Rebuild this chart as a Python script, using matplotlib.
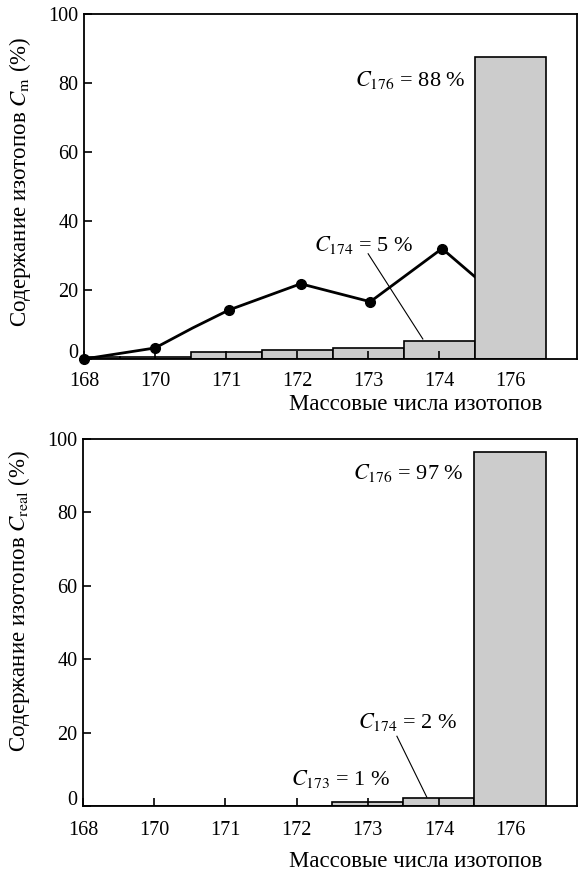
import matplotlib
matplotlib.use("Agg")
import matplotlib.pyplot as plt
from matplotlib.transforms import ScaledTranslation

plt.rcParams['font.family'] = ['Liberation Serif', 'DejaVu Serif']
plt.rcParams['mathtext.fontset'] = 'stix'

# mass numbers (categorical axis)
isotopes = ['168', '170', '171', '172', '173', '174', '176']

# top panel: measured contents C_m
cm_bars = [0.5, 0.5, 2.0, 2.6, 3.1, 5.2, 87.5]
cm_line_x = [0, 1, 1.53, 2.04, 3.05, 4.03, 5.04, 5.55]
cm_line_y = [0, 3.2, 9.0, 14.2, 21.8, 16.6, 32.0, 23.0]
cm_markers = [0, 1, 3, 4, 5, 6]

# bottom panel: real contents C_real
creal_bars = [0, 0, 0, 0, 1.0, 2.2, 96.5]

xlabel = 'Массовые числа изотопов'


def style_axes(ax, xpad):
    ax.set_xlim(0, 6.94)
    ax.set_ylim(0, 100)
    ax.set_xticks(range(len(isotopes)))
    ax.set_xticklabels(isotopes)
    ax.set_yticks([0, 20, 40, 60, 80, 100])
    ax.tick_params(direction='in', length=6, width=1.2, labelsize=14.5, pad=4)
    ax.tick_params(axis='x', pad=xpad)
    for s in ax.spines.values():
        s.set_linewidth(1.3)
    # the zero label sits a little above the axis in the original
    lab = ax.get_yticklabels()[0]
    lab.set_transform(lab.get_transform() + ScaledTranslation(0, 6 / 72, ax.figure.dpi_scale_trans))


def draw_bars(ax, values):
    n = len(values)
    ax.bar(range(n - 1), values[:-1], width=1.0, color='#cccccc', edgecolor='black',
           linewidth=1.2, zorder=1)
    ax.bar([n - 1], [values[-1]], width=1.0, color='#cccccc',
           edgecolor='black', linewidth=1.2, zorder=1.8)


fig = plt.figure(figsize=(5.81, 8.72), dpi=100)
ax1 = fig.add_axes([0.1446, 0.5883, 0.8485, 0.3957])
ax2 = fig.add_axes([0.1429, 0.0757, 0.8502, 0.4209])

# top chart
draw_bars(ax1, cm_bars)
ax1.plot(cm_line_x, cm_line_y, color='black', lw=2, marker='o', ms=7,
         markevery=cm_markers, zorder=1.5, clip_on=False)
style_axes(ax1, 9)
ax1.text(5.37, 81, r'$C_{176}$ = 88 %', ha='right', va='center', fontsize=16)
ax1.text(3.93, 33, r'$C_{174}$ = 5 %', ha='center', va='center', fontsize=16)
ax1.plot([4.0, 4.77], [30.5, 5.8], color='black', lw=0.8, zorder=2)
ax1.set_ylabel(r'Содержание изотопов $C_\mathrm{m}$ (%)', fontsize=16.5)
ax1.yaxis.set_label_coords(-0.103, 0.513)
ax1.set_xlabel(xlabel, fontsize=16.5)
ax1.xaxis.set_label_coords(0.673, -0.10)

# bottom chart
draw_bars(ax2, creal_bars)
style_axes(ax2, 11)
ax2.text(5.34, 90.8, r'$C_{176}$ = 97 %', ha='right', va='center', fontsize=16)
ax2.text(4.56, 22.8, r'$C_{174}$ = 2 %', ha='center', va='center', fontsize=16)
ax2.plot([4.41, 4.83], [19.0, 2.4], color='black', lw=0.8, zorder=2)
ax2.text(3.62, 7.3, r'$C_{173}$ = 1 %', ha='center', va='center', fontsize=16)
ax2.set_ylabel(r'Содержание изотопов $C_\mathrm{real}$ (%)', fontsize=16.5)
ax2.yaxis.set_label_coords(-0.103, 0.557)
ax2.set_xlabel(xlabel, fontsize=16.5)
ax2.xaxis.set_label_coords(0.673, -0.123)

fig.savefig('out.png', dpi=100)
